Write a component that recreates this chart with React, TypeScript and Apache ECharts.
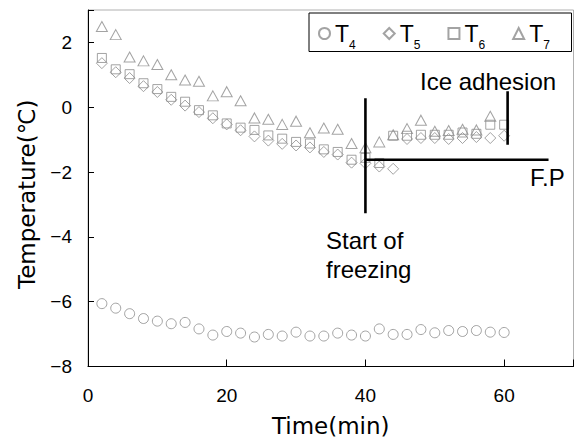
import React, { useEffect, useRef } from "react";
import * as echarts from "echarts";

const times = [2, 4, 6, 8, 10, 12, 14, 16, 18, 20, 22, 24, 26, 28, 30, 32, 34, 36, 38, 40, 42, 44, 46, 48, 50, 52, 54, 56, 58, 60];

const t4 = [-6.06, -6.2, -6.37, -6.52, -6.6, -6.68, -6.64, -6.84, -7.03, -6.92, -6.97, -7.09, -7.01, -7.06, -6.94, -7.06, -7.06, -6.97, -7.03, -7.06, -6.84, -7.01, -7.01, -6.86, -6.96, -6.89, -6.92, -6.89, -6.94, -6.95];
const t5 = [1.36, 1.08, 0.9, 0.65, 0.47, 0.23, 0.05, -0.15, -0.34, -0.53, -0.71, -0.9, -1.03, -1.13, -1.18, -1.24, -1.38, -1.46, -1.71, -1.73, -1.83, -1.9, -0.98, -0.95, -0.95, -0.98, -0.95, -0.92, -0.95, -0.88];
const t6 = [1.52, 1.17, 1.02, 0.74, 0.56, 0.32, 0.17, -0.09, -0.25, -0.5, -0.63, -0.7, -0.87, -0.97, -1.07, -1.12, -1.3, -1.38, -1.62, -1.56, -1.72, -0.88, -0.88, -0.85, -0.85, -0.85, -0.78, -0.82, -0.54, -0.54];
const t7 = [2.49, 2.24, 1.55, 1.43, 1.32, 1.0, 0.84, 0.8, 0.35, 0.48, 0.2, -0.33, -0.37, -0.53, -0.43, -0.79, -0.64, -0.68, -1.12, -1.25, -1.07, -0.85, -0.66, -0.4, -0.74, -0.72, -0.68, -0.7, -0.28, null];

const seriesNames = ["T4", "T5", "T6", "T7"];
const seriesSymbols = ["circle", "diamond", "rect", "triangle"];

// annotation lines (data coordinates)
const startFreezingLine = [[40, 0.28], [40, -3.27]];
const fpLine = [[40, -1.62], [66.4, -1.62]];
const iceAdhesionLine = [[60.5, 0.49], [60.5, -1.16]];

const xTicks = [0, 20, 40, 60];
const yTicks = [-8, -6, -4, -2, 0, 2];

const GREY = "#8c8c8c";

export default function App() {
  const ref = useRef<HTMLDivElement>(null);
  useEffect(() => {
    if (!ref.current) return;
    const chart = echarts.init(ref.current, null, { renderer: "svg" });
    const values = [t4, t5, t6, t7];
    const sizes: any[] = [10, 11, 9, [11, 10]];
    const scatter = seriesNames.map((name, i) => ({
      name,
      type: "scatter",
      symbol: seriesSymbols[i],
      symbolSize: sizes[i],
      data: times.map((t, j) => [t, values[i][j]]).filter((d) => d[1] !== null),
      itemStyle: { color: "transparent", borderColor: GREY, borderWidth: 1 },
      z: 3,
    }));
    const lineSeries = (name: string, data: number[][]) => ({
      name,
      type: "line",
      data,
      symbol: "none",
      lineStyle: { color: "#000", width: 2.6 },
      z: 4,
      silent: true,
    });
    chart.setOption({
      animation: false,
      backgroundColor: "#fff",
      grid: {
        left: 88,
        right: 3.5,
        top: 10,
        bottom: 76.5,
        show: true,
        borderColor: "#b0b0b0",
        borderWidth: 1,
      },
      legend: {
        data: seriesNames,
        left: 318,
        top: 16,
        itemWidth: 11,
        itemHeight: 11,
        itemGap: 27,
        padding: 0,
        formatter: (name: string) => `{t|T}{s|${name.slice(1)}}`,
        textStyle: {
          rich: {
            t: { fontFamily: "Liberation Sans", fontSize: 23, lineHeight: 22, color: "#000", verticalAlign: "middle" },
            s: { fontFamily: "Liberation Sans", fontSize: 12, lineHeight: 12, color: "#000", verticalAlign: "middle", padding: [23, 0, 0, 0] },
          },
        },
      },
      xAxis: {
        type: "value",
        min: 0,
        max: 70,
        interval: 20,
        name: "Time(min)",
        nameLocation: "middle",
        nameGap: 48,
        nameTextStyle: { fontFamily: "DejaVu Sans", fontSize: 23, color: "#000" },
        axisLine: { show: true, onZero: false, lineStyle: { color: "#000", width: 1 } },
        axisTick: { inside: true, length: 7, lineStyle: { color: "#000" } },
        splitLine: { show: false },
        axisLabel: {
          margin: 19,
          fontFamily: "Liberation Sans",
          fontSize: 19,
          color: "#000",
          formatter: (v: number) => (xTicks.includes(v) ? String(v) : ""),
        },
      },
      yAxis: {
        type: "value",
        min: -8,
        max: 3,
        interval: 2,
        name: "Temperature(℃)",
        nameLocation: "middle",
        nameGap: 50,
        nameTextStyle: { fontFamily: "DejaVu Sans", fontSize: 23, color: "#000", padding: [0, 12, 0, 0] },
        axisLine: { show: true, onZero: false, lineStyle: { color: "#000", width: 1 } },
        axisTick: { inside: true, length: 6, lineStyle: { color: "#000" } },
        splitLine: { show: false },
        axisLabel: {
          margin: 16,
          fontFamily: "Liberation Sans",
          fontSize: 19,
          color: "#000",
          formatter: (v: number) => (yTicks.includes(v) ? String(v).replace("-", "\u2212") : ""),
        },
      },
      graphic: [
        { type: "rect", shape: { x: 309, y: 13, width: 262.5, height: 38.5 }, style: { fill: "none", stroke: "#000", lineWidth: 1 }, z: 100 },
        { type: "text", style: { x: 420, y: 81, text: "Ice adhesion", font: "24px 'Liberation Sans'", fill: "#000", verticalAlign: "middle", align: "left" } },
        { type: "text", style: { x: 530, y: 177, text: "F.P", font: "24px 'Liberation Sans'", fill: "#000", verticalAlign: "middle", align: "left" } },
        { type: "text", style: { x: 326, y: 240, text: "Start of", font: "24px 'Liberation Sans'", fill: "#000", verticalAlign: "middle", align: "left" } },
        { type: "text", style: { x: 326, y: 269, text: "freezing", font: "24px 'Liberation Sans'", fill: "#000", verticalAlign: "middle", align: "left" } },
      ],
      series: [
        ...scatter,
        lineSeries("startFreezing", startFreezingLine),
        lineSeries("fp", fpLine),
        lineSeries("iceAdhesion", iceAdhesionLine),
      ],
    });
    return () => chart.dispose();
  }, []);
  return <div ref={ref} style={{ position: "absolute", left: 0, top: 0, width: 577, height: 443 }} />;
}
